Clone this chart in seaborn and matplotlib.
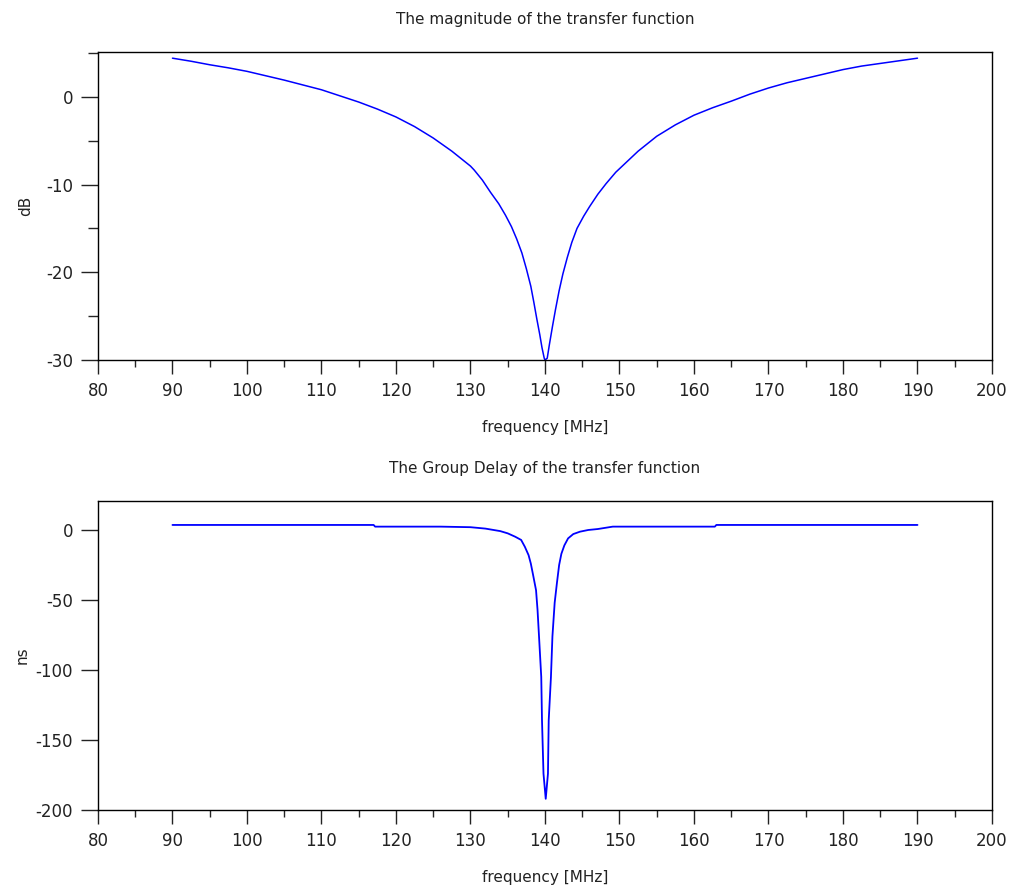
import matplotlib
matplotlib.use("Agg")
import matplotlib.pyplot as plt
import seaborn as sns
from matplotlib.ticker import MultipleLocator

# magnitude of the transfer function
mag_freq = [90, 92.5, 95, 97.5, 100, 102.5, 105, 107.5, 110, 112.5, 115, 117.5, 120, 122.5,
            125, 127.5, 130, 130.5, 131.6, 132.7, 133.8, 134.7, 135.5, 136.2, 136.9, 137.5,
            138.1, 138.5, 138.9, 139.3, 139.6, 139.9, 140.0, 140.3, 140.6, 141.0, 141.4,
            141.9, 142.4, 143.0, 143.6, 144.3, 145.2, 146.0, 147.1, 148.2, 149.5, 150,
            152.5, 155, 157.5, 160, 162.5, 165, 167.5, 170, 172.5, 175, 177.5, 180,
            182.5, 185, 187.5, 190]
mag_db = [4.4, 4.05, 3.65, 3.3, 2.9, 2.4, 1.9, 1.35, 0.8, 0.1, -0.6, -1.4, -2.3, -3.4,
          -4.7, -6.2, -7.9, -8.35, -9.5, -10.9, -12.2, -13.5, -14.8, -16.2, -17.8, -19.6,
          -21.6, -23.4, -25.3, -27.1, -28.6, -29.8, -30.0, -29.8, -28.2, -26.2, -24.3,
          -22.1, -20.2, -18.3, -16.6, -15.0, -13.6, -12.5, -11.1, -9.9, -8.6, -8.2,
          -6.2, -4.5, -3.2, -2.1, -1.25, -0.5, 0.3, 1.0, 1.6, 2.1, 2.6, 3.1,
          3.5, 3.8, 4.1, 4.4]

# group delay
gd_freq = [90, 117, 117.2, 126, 130, 132, 134, 135.0, 136.0, 136.8, 137.3,
           137.8, 138.1, 138.4, 138.8, 139.0, 139.2, 139.5, 139.6, 139.8, 140.1, 140.4,
           140.5, 140.8, 141.0, 141.3, 141.6, 141.9, 142.2, 142.6, 143.1, 143.8, 144.7,
           145.8, 147.1, 149.1, 162.8, 163, 190]
gd_ns = [3.6, 3.6, 2.4, 2.4, 2.0, 1.0, -0.8, -2.4, -4.8, -7.1, -12,
         -18, -24, -32, -43, -57, -76, -105, -136, -174, -192, -174,
         -136, -105, -76, -52, -38, -25, -17, -11, -6, -2.9, -1.2,
         0.0, 0.7, 2.4, 2.4, 3.6, 3.6]

sns.set_theme(style="ticks")
plt.rcParams['font.family'] = ['DejaVu Sans']
plt.rcParams['axes.unicode_minus'] = False

fig = plt.figure(figsize=(10.11, 8.88), dpi=100)
ax1 = fig.add_axes([0.0969, 0.5946, 0.8843, 0.3468])
ax2 = fig.add_axes([0.0969, 0.0878, 0.8843, 0.3480])

sns.lineplot(x=mag_freq, y=mag_db, ax=ax1, color="#0000ff", linewidth=1.1, estimator=None)
sns.lineplot(x=gd_freq, y=gd_ns, ax=ax2, color="#0000ff", linewidth=1.3, estimator=None)

for ax in (ax1, ax2):
    ax.set_xlim(80, 200)
    ax.xaxis.set_major_locator(MultipleLocator(10))
    ax.xaxis.set_minor_locator(MultipleLocator(5))
    ax.tick_params(which="major", length=10, width=1, labelsize=12, colors="#222222", pad=6)
    ax.tick_params(which="minor", length=5, width=1)
    ax.tick_params(axis="y", which="major", length=12)
    ax.tick_params(axis="y", which="minor", length=7)
    for s in ax.spines.values():
        s.set_linewidth(1)
        s.set_color("black")
    ax.set_xlabel("frequency [MHz]", fontsize=11, labelpad=14, color="#222222")

ax1.set_ylim(-30, 5.1)
ax1.yaxis.set_major_locator(MultipleLocator(10))
ax1.yaxis.set_minor_locator(MultipleLocator(5))
ax1.set_ylabel("dB", fontsize=11, color="#222222")
ax1.yaxis.set_label_coords(-0.073, 0.5)
ax1.set_title("The magnitude of the transfer function", fontsize=11, pad=20, color="#222222")

ax2.set_ylim(-200, 20.7)
ax2.yaxis.set_major_locator(MultipleLocator(50))
ax2.set_ylabel("ns", fontsize=11, color="#222222")
ax2.yaxis.set_label_coords(-0.076, 0.5)
ax2.set_title("The Group Delay of the transfer function", fontsize=11, pad=20, color="#222222")

fig.savefig("out.png", dpi=100)
